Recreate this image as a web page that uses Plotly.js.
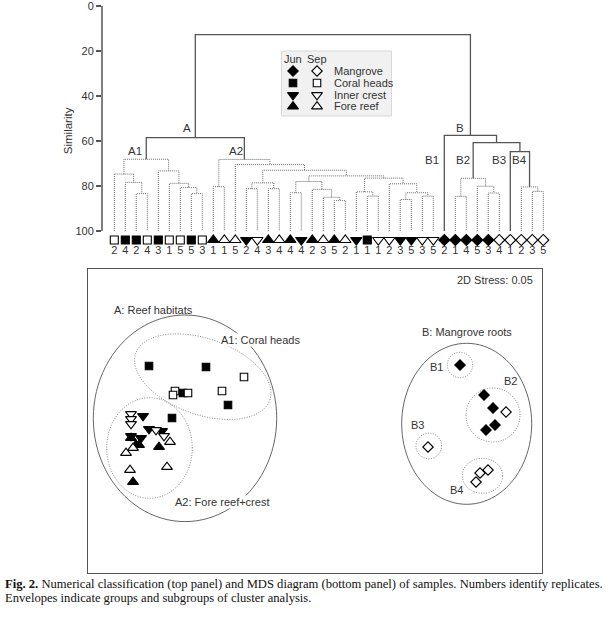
<!DOCTYPE html>
<html><head><meta charset="utf-8">
<script src="https://cdn.plot.ly/plotly-3.0.1.min.js"></script>
<style>html,body{margin:0;padding:0;background:#fff;}</style>
</head><body><div id="chart" style="width:609px;height:620px;"></div>
<script>
// ---------- Dendrogram leaves (left to right) ----------
const leafHabitat = ['C','C','C','C','C','C','C','C','C','F','F','F','I','I','F','F','F','I','F','F','F','F','I','C','I','I','I','I','I','I','M','M','M','M','M','M','M','M','M','M'];
const leafMonth = ['Sep','Jun','Jun','Sep','Jun','Sep','Sep','Jun','Sep','Jun','Sep','Sep','Jun','Sep','Jun','Sep','Jun','Jun','Jun','Sep','Jun','Sep','Jun','Jun','Sep','Sep','Jun','Jun','Sep','Sep','Jun','Jun','Jun','Jun','Jun','Sep','Sep','Sep','Sep','Sep'];
const leafReplicate = [2,4,2,4,3,1,5,5,3,1,1,5,2,4,3,4,4,4,2,3,5,2,1,1,1,2,3,5,3,5,2,1,4,5,3,4,1,2,3,5];

// ---------- Linkage (leaves 0..39, merged nodes 40..) ----------
const mergeLeft   = [2, 1, 0, 7, 6, 5, 4, 42, 9, 12, 14, 49, 16, 20, 19, 18, 52, 23, 22, 26, 28, 59, 25, 58, 56, 51, 11, 48, 47, 31, 34, 33, 69, 38, 37, 36, 72, 30, 68];
const mergeRight  = [3, 40, 41, 8, 43, 44, 45, 46, 10, 13, 15, 50, 17, 21, 53, 54, 55, 24, 57, 27, 29, 60, 61, 62, 63, 64, 65, 66, 67, 32, 35, 70, 71, 39, 73, 74, 75, 76, 77];
const mergeHeight = [83.4, 78.4, 74.7, 83.4, 80.7, 78.8, 73.3, 68.1, 80.3, 81.2, 81.2, 78.6, 83.0, 86.5, 85.0, 81.5, 78.0, 84.5, 82.6, 86.0, 84.5, 83.0, 79.0, 76.5, 75.5, 73.0, 70.5, 68.2, 58.5, 84.6, 83.1, 80.1, 76.6, 82.4, 80.4, 64.7, 60.7, 57.5, 12.7];
const mergeSolid  = [0,0,0,0,0,0,0,0,0,0,0,0,0,0,0,0,0,0,0,0,0,0,0,0,0,0,0,0,1,0,0,0,0,0,0,1,1,1,1];
const simTicks = [0, 20, 40, 60, 80, 100];

// ---------- MDS ordination ----------
const mdsHabitat = ['C','C','C','C','C','C','C','C','C','C','I','I','I','I','I','I','I','I','I','I','F','F','F','F','F','F','F','F','F','F','M','M','M','M','M','M','M','M','M','M'];
const mdsMonth   = ['Jun','Jun','Jun','Jun','Jun','Sep','Sep','Sep','Sep','Sep','Jun','Jun','Jun','Jun','Jun','Sep','Sep','Sep','Sep','Sep','Jun','Jun','Jun','Jun','Jun','Sep','Sep','Sep','Sep','Sep','Jun','Jun','Jun','Jun','Jun','Sep','Sep','Sep','Sep','Sep'];
const mdsX = [-1.66,-1.09,-1.32,-0.87,-1.43, -0.71,-0.93,-1.40,-1.42,-1.27, -1.72,-1.66,-1.53,-1.84,-1.74, -1.84,-1.84,-1.84,-1.59,-1.51, -1.84,-1.79,-1.76,-1.56,-1.82, -1.45,-1.82,-1.89,-1.48,-1.85, 1.45,1.69,1.78,1.80,1.71, 1.91,1.13,1.65,1.73,1.61];
const mdsY = [0.54,0.53,0.27,0.15,0.02, 0.43,0.29,0.29,0.25,0.27, 0.04,-0.09,-0.11,-0.16,-0.18, 0.06,0.01,-0.04,-0.10,-0.16, -0.18,-0.25,-0.25,-0.27,-0.62, -0.22,-0.28,-0.33,-0.47,-0.50, 0.55,0.25,0.12,-0.05,-0.10, 0.08,-0.27,-0.53,-0.50,-0.62];

// Envelopes of cluster groups
const envName  = ['A','A1','A2','B','B1','B2','B3','B4'];
const envCx    = [-1.30,-1.122,-1.655,1.517,1.45,1.78,1.138,1.675];
const envCy    = [0.017,0.433,-0.28,-0.038,0.55,0.05,-0.26,-0.558];
const envRx    = [0.917,0.71,0.428,0.65,0.127,0.27,0.128,0.202];
const envRy    = [1.033,0.38,0.503,0.805,0.127,0.27,0.128,0.175];
const envAngle = [0,-19.2,0,0,0,0,0,0];
const envSolid = [1,0,0,1,0,0,0,0];

const habitatNames = {M:'Mangrove', C:'Coral heads', I:'Inner crest', F:'Fore reef'};
const legendOrder = ['M','C','I','F'];

// ---------- helpers ----------
const W = 609, H = 620;
const symOf = {M:'diamond', C:'square', I:'triangle-down', F:'triangle-up'};
const sizeOf = {M:8, C:7.5, I:9.5, F:9.5};
const fillOf = m => m === 'Jun' ? '#000' : '#fff';
const X0 = -0.118, PXU = 11, YPX = 2.25; // dendrogram axis scale helpers
const dx = p => (p - 102) / PXU + X0;
const dy = p => (p - 6) / YPX;
const P = (x, y) => ({x: x / W, y: 1 - y / H});
const YMIN = -1, YMAX = 112; // similarity axis range (extra room for leaf symbols)

// ---------- dendrogram lines ----------
const nLeaves = leafHabitat.length;
const nodeX = [], nodeH = [];
for (let i = 0; i < nLeaves; i++) { nodeX.push(i + 1); nodeH.push(100); }
const solid = {x: [], y: []}, dotted = {x: [], y: []};
for (let k = 0; k < mergeLeft.length; k++) {
  const a = mergeLeft[k], b = mergeRight[k], h = mergeHeight[k];
  const t = mergeSolid[k] ? solid : dotted;
  t.x.push(nodeX[a], nodeX[a], nodeX[b], nodeX[b], null);
  t.y.push(nodeH[a], h, h, nodeH[b], null);
  nodeX.push((nodeX[a] + nodeX[b]) / 2); nodeH.push(h);
}
const leafIdx = leafHabitat.map((_, i) => i + 1);

const traces = [];
traces.push({type:'scatter', mode:'lines', x:dotted.x, y:dotted.y, xaxis:'x', yaxis:'y',
  line:{color:'#6a6a6a', width:1, dash:'1px,1px'}, hoverinfo:'skip'});
traces.push({type:'scatter', mode:'lines', x:solid.x, y:solid.y, xaxis:'x', yaxis:'y',
  line:{color:'#555', width:1.3}, hoverinfo:'skip'});
traces.push({type:'scatter', mode:'markers', x:leafIdx, y:leafIdx.map(() => dy(240)), xaxis:'x', yaxis:'y', cliponaxis:false,
  marker:{symbol:leafHabitat.map(h => symOf[h]), size:leafHabitat.map(h => sizeOf[h] + 0.5), opacity:1,
          color:leafMonth.map(fillOf), line:{color:'#000', width:1.1}}});
traces.push({type:'scatter', mode:'text', x:leafIdx, y:leafIdx.map(() => dy(251)), xaxis:'x', yaxis:'y', cliponaxis:false,
  text:leafReplicate.map(String), textfont:{size:11, color:'#333'}, textposition:'middle center'});

// legend inside dendrogram
const legRowsY = [71, 83, 95, 106.5];
const lgx = [], lgy = [], lgs = [], lgc = [], lgz = [];
legendOrder.forEach((h, i) => {
  ['Jun','Sep'].forEach((m, j) => {
    lgx.push(dx(j === 0 ? 293 : 317)); lgy.push(dy(legRowsY[i]));
    lgs.push(symOf[h]); lgc.push(fillOf(m)); lgz.push(sizeOf[h]);
  });
});
traces.push({type:'scatter', mode:'markers', x:lgx, y:lgy, xaxis:'x', yaxis:'y', cliponaxis:false,
  marker:{symbol:lgs, size:lgz, color:lgc, opacity:1, line:{color:'#000', width:1.1}}});

// ---------- MDS points ----------
traces.push({type:'scatter', mode:'markers', x:mdsX, y:mdsY, xaxis:'x2', yaxis:'y2',
  marker:{symbol:mdsHabitat.map(h => symOf[h]), size:mdsHabitat.map(h => sizeOf[h]), opacity:1,
          color:mdsMonth.map(fillOf), line:{color:'#000', width:1.1}}});

// ---------- shapes ----------
const shapes = [];
// similarity axis line (0..100)
shapes.push({type:'line', xref:'paper', yref:'y', x0:102/W, x1:102/W, y0:0, y1:100, line:{color:'#555', width:1.5}});
shapes.push({type:'rect', xref:'paper', yref:'paper', x0:281.5/W, x1:391.5/W, y0:1-116/H, y1:1-51/H,
  fillcolor:'#f1f1f1', line:{color:'#d8d8d8', width:1}, layer:'below'});
for (let i = 0; i < envName.length; i++) {
  const th = envAngle[i] * Math.PI / 180;
  let d = '';
  for (let s = 0; s <= 96; s++) {
    const t = 2 * Math.PI * s / 96;
    const ex = envRx[i] * Math.cos(t), ey = envRy[i] * Math.sin(t);
    const x = envCx[i] + ex * Math.cos(th) - ey * Math.sin(th);
    const y = envCy[i] + ex * Math.sin(th) + ey * Math.cos(th);
    d += (s === 0 ? 'M' : 'L') + x.toFixed(4) + ',' + y.toFixed(4);
  }
  d += 'Z';
  shapes.push({type:'path', path:d, xref:'x2', yref:'y2', layer:'below',
    line: envSolid[i] ? {color:'#555', width:0.9} : {color:'#888', width:1, dash:'1px,1.5px'}});
}

// ---------- annotations ----------
const ann = [];
const addText = (txt, x, y, opts) => {
  const p = P(x, y);
  ann.push(Object.assign({text:txt, x:p.x, y:p.y, xref:'paper', yref:'paper', showarrow:false,
    xanchor:'center', yanchor:'middle', font:{size:11, color:'#333'}}, opts || {}));
};
[['A',186.7,128],['A1',135,151],['A2',235.7,151],['B',460.3,128],['B1',432,160.5],['B2',462.7,160.5],['B3',499,160.5],['B4',519.3,160.5]]
  .forEach(a => addText(a[0], a[1], a[2], {font:{size:11.5, color:'#333'}}));
addText('Jun', 293, 59.5); addText('Sep', 316.5, 59.5);
legendOrder.forEach((h, i) => addText(habitatNames[h], 332, legRowsY[i], {xanchor:'left'}));
addText('2D Stress: 0.05', 535, 280, {xanchor:'right'});
addText('A: Reef habitats', 153.3, 310);
addText('A1: Coral heads', 260.8, 340, {bgcolor:'#fff', borderpad:0});
addText('A2: Fore reef+crest', 222, 502.5, {bgcolor:'#fff', borderpad:0});
addText('B: Mangrove roots', 466.7, 331.7);
addText('B1', 436, 366.7); addText('B2', 510.7, 381); addText('B3', 417.3, 425); addText('B4', 456.7, 490);
const capFont = {family:'Liberation Serif, Times New Roman, serif', size:12.6, color:'#111'};
addText('<b>Fig. 2.</b> Numerical classification (top panel) and MDS diagram (bottom panel) of samples. Numbers identify replicates.', 3, 584, {xanchor:'left', font:capFont});
addText('Envelopes indicate groups and subgroups of cluster analysis.', 3, 598, {xanchor:'left', font:capFont});

const boxAxis = {showline:true, mirror:true, linecolor:'#555', linewidth:1.3, showticklabels:false, ticks:'',
  showgrid:false, zeroline:false, fixedrange:true};
const layout = {
  width:W, height:H, margin:{l:0, r:0, t:0, b:0}, paper_bgcolor:'#fff', plot_bgcolor:'rgba(0,0,0,0)',
  showlegend:false, hovermode:false,
  font:{family:'Liberation Sans, Arial, sans-serif', size:11, color:'#333'},
  xaxis:{domain:[102/W, 555/W], range:[X0, X0 + 453/PXU], visible:false, fixedrange:true},
  yaxis:{domain:[1 - (6 + YMAX * YPX) / H, 1 - (6 + YMIN * YPX) / H], range:[YMAX, YMIN], showline:false,
    ticks:'outside', ticklen:5, tickwidth:1.2, tickcolor:'#555', tickvals:simTicks, showgrid:false, zeroline:false,
    tickfont:{size:11, color:'#333'}, fixedrange:true, ticklabeloverflow:'allow',
    title:{text:'Similarity', font:{size:11.5, color:'#333'}, standoff:0}},
  xaxis2:Object.assign({domain:[88/W, 542/W], range:[-2.27, 2.27], anchor:'y2'}, boxAxis),
  yaxis2:Object.assign({domain:[1-573/H, 1-269/H], range:[-1.53, 1.51], anchor:'x2'}, boxAxis),
  shapes:shapes, annotations:ann
};
Plotly.newPlot('chart', traces, layout, {displayModeBar:false, staticPlot:true});
</script></body></html>
